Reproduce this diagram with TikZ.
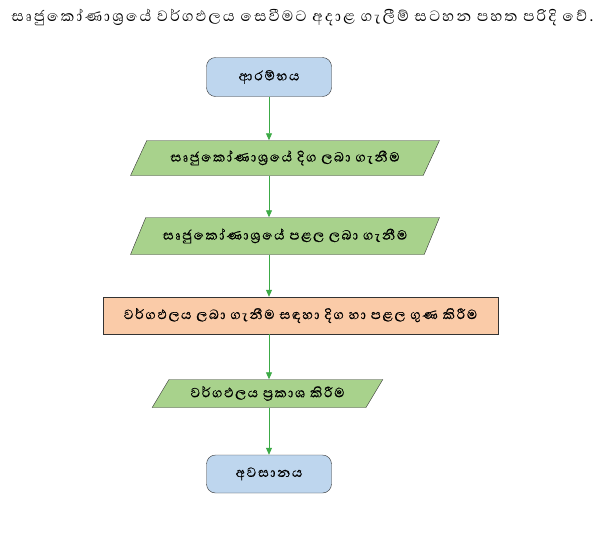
\documentclass[tikz,border=0pt]{standalone}
\usepackage{fontspec}
\newfontfamily\sinhfont[Script=Sinhala,LetterSpace=10,FakeBold=0.6]{Abhaya Libre}
\newfontfamily\sinhtitle[Script=Sinhala,LetterSpace=12]{Abhaya Libre}
\usetikzlibrary{shapes.geometric,arrows.meta}
\definecolor{grn}{RGB}{168,210,140}
\definecolor{blu}{RGB}{190,214,238}
\definecolor{org}{RGB}{250,203,168}
\definecolor{arr}{RGB}{60,170,70}
\tikzset{
  every node/.style={font=\sinhfont\fontsize{17}{19}\selectfont},
  term/.style={draw=black!80,fill=blu,rounded corners=9pt,minimum width=125pt,minimum height=39pt,inner sep=0pt},
  io/.style={draw=black!80,fill=grn,trapezium,trapezium left angle=48,trapezium right angle=132,trapezium stretches=true,inner sep=0pt},
  proc/.style={draw=black!80,fill=org,minimum width=395pt,minimum height=37pt,inner sep=0pt},
  flow/.style={draw=arr,line width=0.8pt,-{Triangle[length=7pt,width=6pt]}}
}
\begin{document}
\begin{tikzpicture}[x=1pt,y=-1pt]
\useasboundingbox (0,0) rectangle (603,536);
\node[anchor=west,font=\sinhtitle\fontsize{19}{21}\selectfont] (title) at (8,18) {සෘජුකෝණාශ්‍රයේ වර්ගඵලය සෙවීමට අදාළ ගැලීම් සටහන පහත පරිදි වේ.};
\node[term] (s) at (269,77) {ආරම්භය};
\node[io,minimum width=310pt,minimum height=35pt] (a) at (285,158) {සෘජුකෝණාශ්‍රයේ දිග ලබා ගැනීම};
\node[io,minimum width=310pt,minimum height=37pt] (b) at (285,236) {සෘජුකෝණාශ්‍රයේ පළල ලබා ගැනීම};
\node[proc] (c) at (300.5,315.5) {වර්ගඵලය ලබා ගැනීම සඳහා දිග හා පළල ගුණ කිරීම};
\node[io,minimum width=231pt,minimum height=28pt] (d) at (267.5,393.5) {වර්ගඵලය ප්‍රකාශ කිරීම};
\node[term,minimum height=38pt] (e) at (269,474) {අවසානය};
\draw[flow] (s.south) -- (s.south |- a.north);
\draw[flow] (s.south |- a.south) -- (s.south |- b.north);
\draw[flow] (s.south |- b.south) -- (s.south |- c.north);
\draw[flow] (s.south |- c.south) -- (s.south |- d.north);
\draw[flow] (s.south |- d.south) -- (e.north);
\end{tikzpicture}
\end{document}
